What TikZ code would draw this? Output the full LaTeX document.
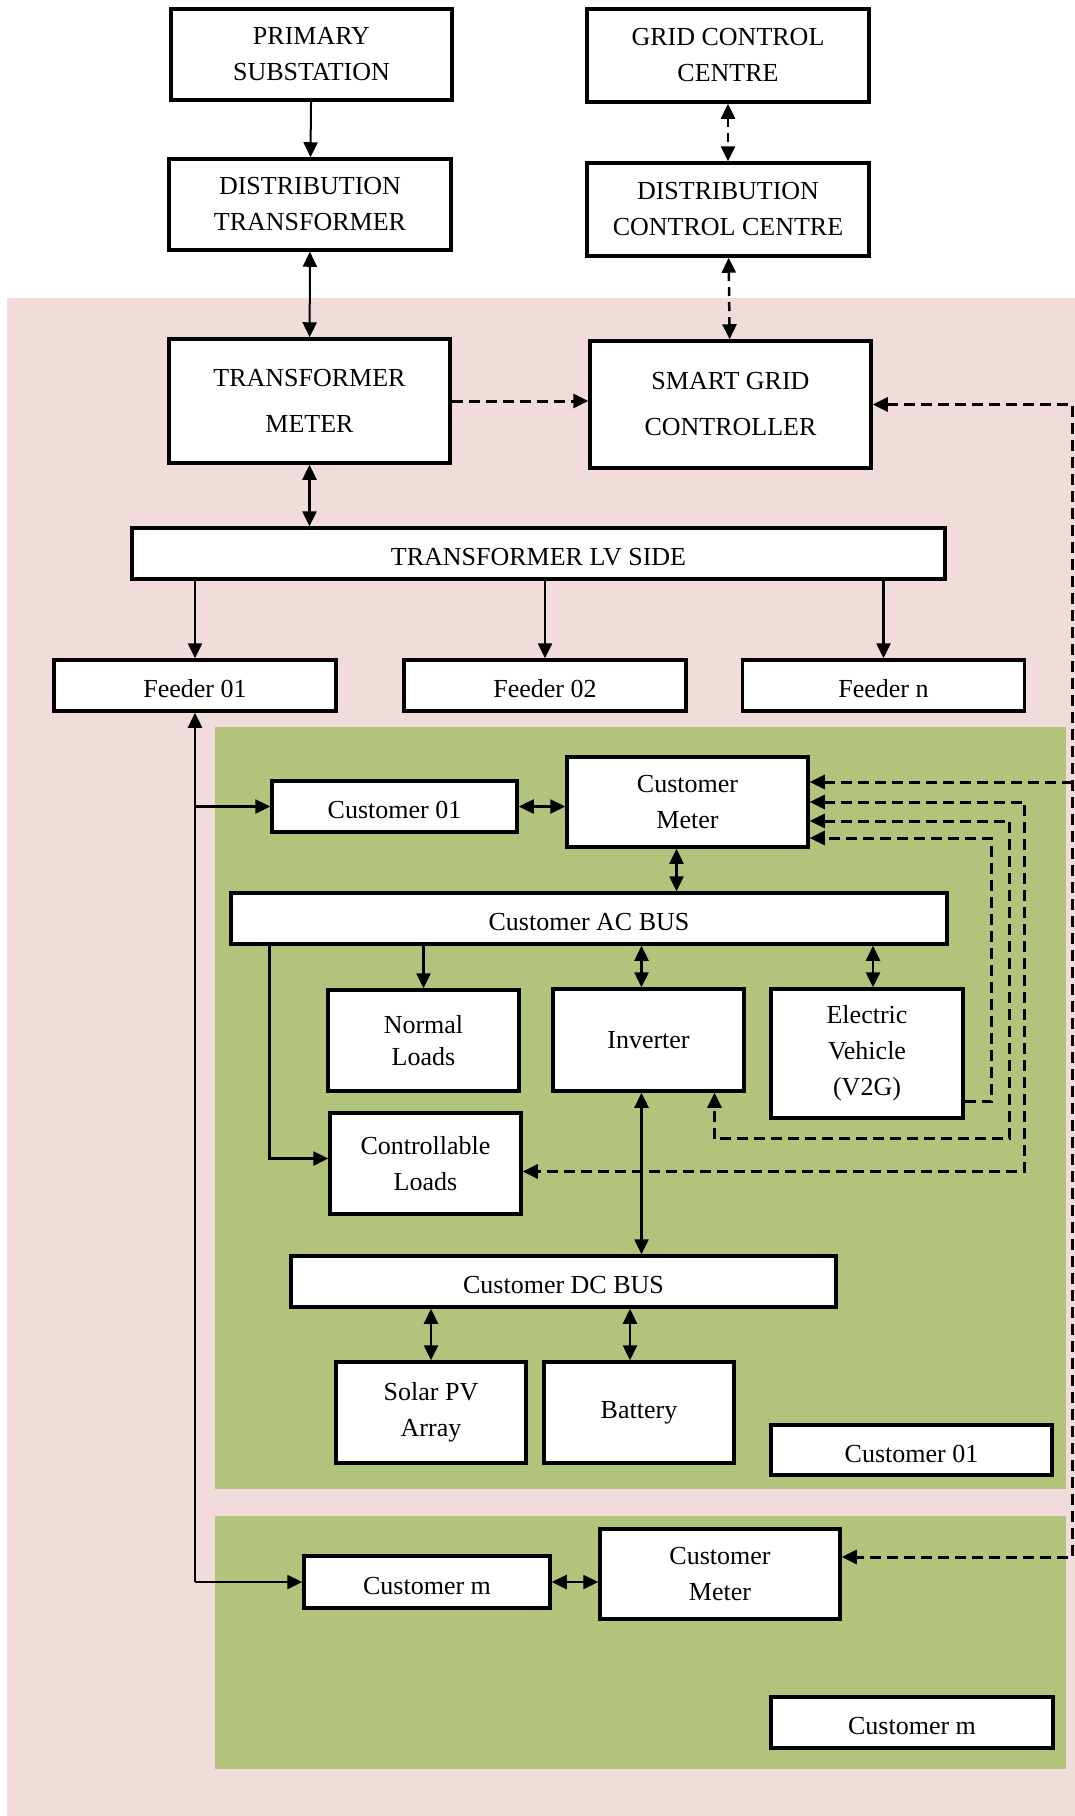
\documentclass[tikz,border=0pt]{standalone}
\usepackage{fontspec}
\setmainfont{Liberation Serif}
\usepackage{tikz}
\usetikzlibrary{arrows.meta,positioning,calc}
\definecolor{pinkbg}{RGB}{242,220,219}
\definecolor{greenbg}{RGB}{178,196,124}
\tikzset{
  blk/.style  = { draw, line width=3.5pt, fill=white, align=center, inner sep=0pt,
    font=\fontsize{26}{36}\selectfont },
  tall/.style = { blk, font=\fontsize{26}{46}\selectfont },
  bus/.style  = { blk, minimum height=51pt, text height=24pt, text depth=0pt },
  sig/.style  = { line width=3pt, dash pattern=on 11pt off 6pt },
  ctl/.style  = { line width=2.5pt, dash pattern=on 9pt off 6pt }
}

\begin{document}
\begin{tikzpicture}[x=1pt, y=-1pt, line width=2.5pt,
    >={Triangle[length=15pt,width=14pt]}]
    \useasboundingbox (0,0) rectangle (1075,1816);
    % zones
    \fill[pinkbg] (7,298) rectangle (1075,1816);
    \fill[greenbg] (215,727) rectangle (1066,1489);
    \fill[greenbg] (215,1516) rectangle (1066,1769);

    \node[blk, minimum width=281pt, minimum height=91pt] (ps) at (311.5,54.5) {PRIMARY\\SUBSTATION};
    \node[blk, minimum width=282pt, minimum height=93pt] (gcc) at (728,55.5) {GRID CONTROL\\CENTRE};
    \node[blk, minimum width=282pt, minimum height=91pt] (dt) at (310,204.5) {DISTRIBUTION\\TRANSFORMER};
    \node[blk, minimum width=282pt, minimum height=93pt] (dcc) at (728,209.5) {DISTRIBUTION\\CONTROL CENTRE};
    \node[tall, minimum width=281pt, minimum height=124pt] (tm) at (309.5,401) {TRANSFORMER\\METER};
    \node[tall, minimum width=281pt, minimum height=127pt] (sgc) at (730.5,404.5) {SMART GRID\\CONTROLLER};
    \node[bus, minimum width=813pt] (lv) at (538.5,553.5) {TRANSFORMER LV SIDE};
    \node[bus, minimum width=282pt] (f1) at (195,685.5) {Feeder 01};
    \node[bus, minimum width=282pt] (f2) at (545,685.5) {Feeder 02};
    \node[bus, minimum width=282pt] (fn) at (883.5,685.5) {Feeder n};

    % customer 01
    \node[bus, minimum width=245pt] (c1) at (394.5,806.5) {Customer 01};
    \node[blk, minimum width=241pt, minimum height=90pt] (cm1) at (687.5,802) {Customer\\Meter};
    \node[bus, minimum width=716pt] (ac) at (589,918.5) {Customer AC BUS};
    \node[blk, minimum width=191pt, minimum height=101pt, font=\fontsize{26}{32}\selectfont] (nl) at (423.5,1040.5) {Normal\\Loads};
    \node[blk, minimum width=191pt, minimum height=102pt] (inv) at (648.5,1040) {Inverter};
    \node[blk, minimum width=192pt, minimum height=129pt] (ev) at (867,1053.5) {Electric\\Vehicle\\(V2G)};
    \node[blk, minimum width=191pt, minimum height=101pt] (cl) at (425.5,1163.5) {Controllable\\Loads};
    \node[bus, minimum width=545pt] (dc) at (563.5,1281.5) {Customer DC BUS};
    \node[blk, minimum width=190pt, minimum height=101pt] (pv) at (431,1412.5) {Solar PV\\Array};
    \node[blk, minimum width=190pt, minimum height=101pt] (bat) at (639,1412.5) {Battery};
    \node[bus, minimum width=281pt, minimum height=50pt] (c1lbl) at (911.5,1450) {Customer 01};

    % customer m
    \node[bus, minimum width=246pt, minimum height=52pt] (cm) at (427,1582) {Customer m};
    \node[blk, minimum width=240pt, minimum height=90pt] (cm2) at (720,1574) {Customer\\Meter};
    \node[bus, minimum width=282pt] (cmlbl) at (912,1722.5) {Customer m};

    % power flow
    \path[->, line width=2pt] (ps) edge (dt);
    \path[<->, line width=2pt] (dt) edge (tm);
    \path[<->] (tm) edge (tm |- lv.north);
    \path[->] (f1 |- lv.south) edge (f1);
    \path[->] (f2 |- lv.south) edge (f2);
    \path[->] (fn |- lv.south) edge (fn);
    \draw[->] (f1.south |- cm.west) -- (f1.south);
    \draw[->] (f1.south |- cm.west) -- (cm.west);
    \draw[->] (f1.south |- c1.west) -- (c1.west);
    \path[<->] (c1.east) edge (c1.east -| cm1.west);
    \path[<->] (cm.east) edge (cm.east -| cm2.west);
    \path[<->] ([xshift=-11pt]cm1.south) edge ([xshift=-11pt]cm1.south |- ac.north);
    \path[->] (nl |- ac.south) edge (nl);
    \draw[->] ([xshift=40pt]ac.south west) |- ([yshift=5pt]cl.west);
    \path[<->] ([xshift=-7pt]inv.north |- ac.south) edge ([xshift=-7pt]inv.north);
    \path[<->] ([xshift=6pt]ev.north |- ac.south) edge ([xshift=6pt]ev.north);
    \path[<->] ([xshift=-7pt]inv.south) edge ([xshift=-7pt]inv.south |- dc.north);
    \path[<->] (pv.north |- dc.south) edge (pv.north);
    \path[<->] ([xshift=-9pt]bat.north |- dc.south) edge ([xshift=-9pt]bat.north);

    % control signals
    \path[ctl, <->] (gcc) edge (dcc);
    \path[ctl, <->] (dcc) edge (sgc);
    \draw[sig, ->] (tm.east) -- (tm.east -| sgc.west);
    \draw[sig, <->] (sgc.east) -- ++(200,0) |- ([yshift=17pt]cm2.east);
    \draw[sig, <-] ([yshift=20pt]cm1.east) -- ++(263,0);
    \draw[sig, <->] (cm1.east) -- ++(215,0) |- ([yshift=-8pt]cl.east);
    \draw[sig, <->] ([yshift=-19pt]cm1.east) -- ++(200,0) |- ([xshift=66pt,yshift=-46pt]inv.south) -- ([xshift=66pt]inv.south);
    \draw[sig, ->] ([yshift=-48pt]ev.east) -- ++(27,0) |- ([yshift=-36pt]cm1.east);
\end{tikzpicture}
\end{document}
